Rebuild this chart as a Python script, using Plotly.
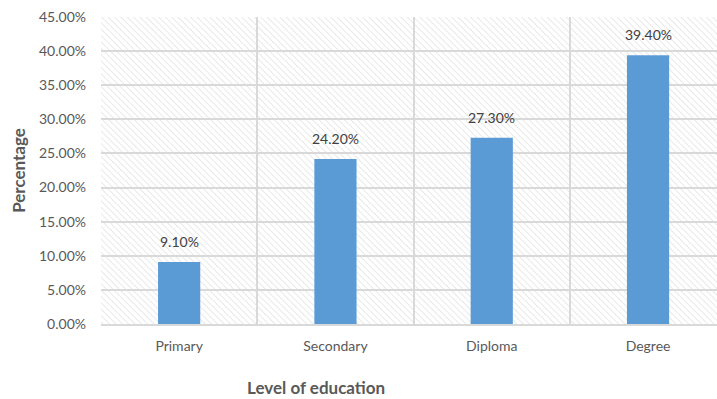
import base64
import plotly.graph_objects as go

# Share of respondents by level of education
levels = ["Primary", "Secondary", "Diploma", "Degree"]
shares = [9.10, 24.20, 27.30, 39.40]
y_ticks = [0, 5, 10, 15, 20, 25, 30, 35, 40, 45]

FONT = "Lato, 'Open Sans', sans-serif"
TEXT = "#595959"
GRID = "#d9d9d9"
BAR = "#5b9bd5"

# Diagonal hatch used as the plotting-area fill
hatch_svg = (
    '<svg xmlns="http://www.w3.org/2000/svg" width="616" height="307">'
    '<defs><pattern id="h" width="4.5" height="4.5" patternUnits="userSpaceOnUse" '
    'patternTransform="rotate(-45)">'
    '<line x1="0" y1="0" x2="0" y2="4.5" stroke="#d4d4d4" stroke-width="1"/>'
    '</pattern></defs>'
    '<rect width="100%" height="100%" fill="#ffffff"/>'
    '<rect width="100%" height="100%" fill="url(#h)"/>'
    '</svg>'
)
hatch_uri = "data:image/svg+xml;base64," + base64.b64encode(hatch_svg.encode()).decode()

x_pos = list(range(len(levels)))

fig = go.Figure()
fig.add_trace(go.Bar(
    x=x_pos,
    y=shares,
    width=0.27,
    marker=dict(color=BAR, line=dict(width=0)),
    hoverinfo="skip",
))

# value labels above each bar
for xi, v in zip(x_pos, shares):
    fig.add_annotation(
        x=xi, y=v, xref="x", yref="y",
        text=f"{v:.2f}%", showarrow=False,
        yanchor="bottom", yshift=10,
        font=dict(family=FONT, size=14, color="#404040"),
    )

# x-axis title
fig.add_annotation(
    xref="paper", x=(316 - 101) / 616,
    yref="paper", y=-(387 - 324) / 307, yanchor="middle",
    text="<b>Level of education</b>", showarrow=False,
    font=dict(family=FONT, size=17, color=TEXT),
)

fig.add_layout_image(
    source=hatch_uri, xref="paper", yref="paper",
    x=0, y=1, sizex=1, sizey=1, xanchor="left", yanchor="top",
    sizing="stretch", layer="below",
)

fig.update_layout(
    width=717, height=399,
    margin=dict(l=101, r=0, t=17, b=75),
    paper_bgcolor="white",
    plot_bgcolor="rgba(0,0,0,0)",
    showlegend=False,
    font=dict(family=FONT, color=TEXT),
    xaxis=dict(
        range=[-0.5, -0.5 + 616 / 156.3],
        tickvals=x_pos, ticktext=levels,
        showgrid=False, zeroline=False,
        showline=True, linecolor=GRID, linewidth=1.5,
        ticks="", ticklen=0, ticklabelstandoff=8,
        tickfont=dict(family=FONT, size=14, color=TEXT),
        minor=dict(tickvals=[-0.5, 0.5, 1.5, 2.5, 3.5], showgrid=True,
                   gridcolor=GRID, gridwidth=1.5, ticks=""),
    ),
    yaxis=dict(
        range=[0, 45],
        tickvals=y_ticks,
        ticktext=[f"{t:.2f}%" for t in y_ticks],
        showgrid=True, gridcolor=GRID, gridwidth=1.5,
        zeroline=False, showline=False,
        ticks="", ticklen=0, ticklabelstandoff=14,
        tickfont=dict(family=FONT, size=14, color=TEXT),
        title=dict(text="<b>Percentage</b>", standoff=9,
                   font=dict(family=FONT, size=17, color=TEXT)),
    ),
)

fig.write_html("out.html")
